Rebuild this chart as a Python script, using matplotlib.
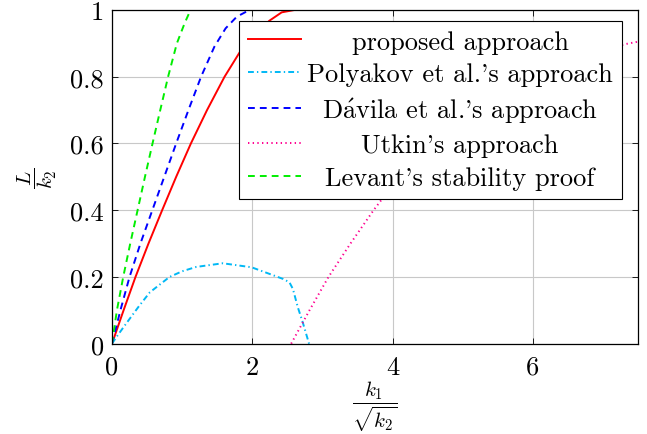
import matplotlib
matplotlib.use("Agg")
import matplotlib.pyplot as plt
from matplotlib.offsetbox import VPacker

# values
prop_x = [0, 0.165, 0.335, 0.52, 0.715, 0.915, 1.125, 1.355, 1.605, 1.82, 2.04, 2.245, 2.42, 2.6, 2.82]
prop_y = [0, 0.1, 0.2, 0.3, 0.4, 0.5, 0.6, 0.7, 0.8, 0.873, 0.928, 0.968, 0.993, 1.0, 1.0]

poly_x = [0, 0.06, 0.18, 0.39, 0.54, 0.82, 1.0, 1.2, 1.58, 1.99, 2.3, 2.44, 2.53, 2.58, 2.65, 2.72, 2.81]
poly_y = [0, 0.019, 0.054, 0.114, 0.154, 0.2, 0.217, 0.23, 0.241, 0.229, 0.205, 0.194, 0.184, 0.164, 0.109, 0.064, 0.0]

dav_x = [0, 0.12, 0.25, 0.405, 0.575, 0.745, 0.915, 1.09, 1.27, 1.46, 1.62, 1.78, 1.96]
dav_y = [0, 0.1, 0.2, 0.3, 0.4, 0.5, 0.6, 0.7, 0.8, 0.89, 0.945, 0.98, 1.0]

utk_x = [2.555, 2.816, 3.087, 3.40, 3.73, 3.86, 4.5, 5.0, 5.5, 6.0, 6.5, 7.0, 7.3, 7.5]
utk_y = [0, 0.1, 0.2, 0.3, 0.4, 0.436, 0.6, 0.68, 0.74, 0.79, 0.835, 0.875, 0.897, 0.905]

lev_x = [0, 0.07, 0.16, 0.26, 0.365, 0.47, 0.578, 0.688, 0.80, 0.925, 1.035, 1.12]
lev_y = [0, 0.1, 0.2, 0.3, 0.4, 0.5, 0.6, 0.7, 0.8, 0.9, 0.96, 1.0]

labels = ["proposed approach", "Polyakov et al.'s approach",
          r"D$\acute{\mathrm{a}}$vila et al.'s approach",
          "Utkin's approach", "Levant's stability proof"]

plt.rcParams['font.family'] = ['cmr10', 'DejaVu Serif']
plt.rcParams['mathtext.fontset'] = 'cm'
plt.rcParams['axes.formatter.use_mathtext'] = True
plt.rcParams['font.size'] = 19

fig = plt.figure(figsize=(6.47, 4.35), dpi=100)
ax = fig.add_axes([0.1731, 0.2076, 0.8129, 0.7671])

lw = 1.4
ax.plot(prop_x, prop_y, color='#ff0000', lw=lw, label=labels[0])
ax.plot(poly_x, poly_y, color='#00b8f5', lw=lw, dashes=(3, 1.6, 0.7, 1.6), label=labels[1])
ax.plot(dav_x, dav_y, color='#0000ff', lw=lw, dashes=(3.5, 2.6), label=labels[2])
ax.plot(utk_x, utk_y, color='#ff0090', lw=lw, dashes=(0.7, 1.7), label=labels[3])
ax.plot(lev_x, lev_y, color='#00ee00', lw=lw, dashes=(3.5, 2.6), label=labels[4])

ax.set_xlim(0, 7.5)
ax.set_ylim(0, 1)
ax.set_xticks([0, 2, 4, 6])
ax.set_yticks([0, 0.2, 0.4, 0.6, 0.8, 1])
ax.set_xticklabels(["0", "2", "4", "6"])
ax.set_yticklabels(["0", "0.2", "0.4", "0.6", "0.8", "1"])
ax.tick_params(axis='both', direction='in', length=4, width=0.6, top=True, right=True)
ax.tick_params(axis='x', pad=8)
ax.tick_params(axis='y', pad=6)
ax.grid(True, color='#c8c8c8', lw=0.8)
for s in ax.spines.values():
    s.set_linewidth(0.9)

ax.set_xlabel(r"$\dfrac{k_1}{\sqrt{k_2}}$", fontsize=15, labelpad=0)
ax.set_ylabel(r"$\dfrac{L}{k_2}$", fontsize=15, labelpad=8)

leg = ax.legend(loc='upper right', bbox_to_anchor=(0.97, 0.968), fancybox=False,
                edgecolor='black', framealpha=1, handlelength=2.0,
                borderpad=0.35, labelspacing=0.34, handletextpad=0.25, borderaxespad=0)
leg.get_frame().set_linewidth(0.8)

# centre the legend texts like pgfplots does
try:
    fig.canvas.draw()
    renderer = fig.canvas.get_renderer()
    rows = [r for col in leg._legend_handle_box.get_children() for r in col.get_children()]
    w_max = max(r.get_children()[1].get_bbox(renderer).width for r in rows)
    for r in rows:
        ta = r._children[1]
        box = VPacker(pad=0, sep=0, width=w_max, align='center', children=[ta])
        box.set_figure(fig)
        r._children[1] = box
except Exception as e:
    print("could not centre legend texts:", e)

fig.savefig("out.png", dpi=100)
